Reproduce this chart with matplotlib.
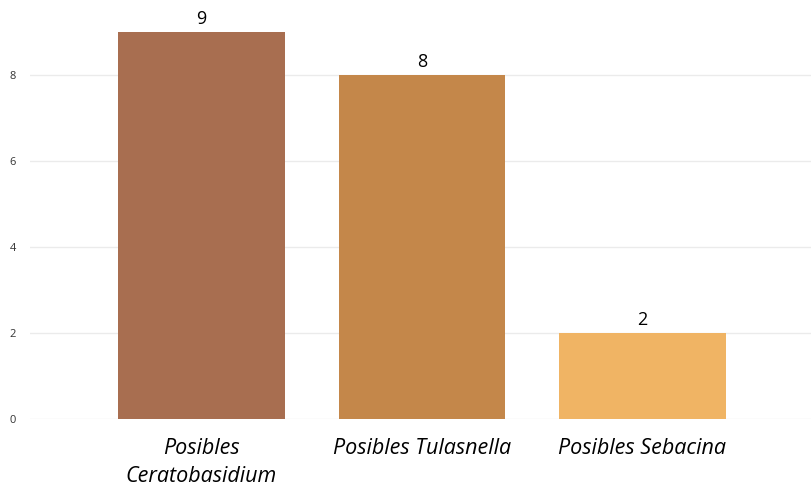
import matplotlib.pyplot as plt

categories = ["Posibles\nCeratobasidium", "Posibles Tulasnella", "Posibles Sebacina"]
counts = [9, 8, 2]
colors = ["#A86E50", "#C4874A", "#F0B464"]

plt.rcParams['font.family'] = ['Open Sans', 'DejaVu Sans']

fig = plt.figure(figsize=(8.12, 4.9), dpi=100)
ax = fig.add_axes([30 / 812, 71 / 490, 782 / 812, 419 / 490])

x = range(len(categories))
bars = ax.bar(x, counts, width=0.757, color=colors, zorder=3)

for b, v in zip(bars, counts):
    ax.annotate(str(v), (b.get_x() + b.get_width() / 2, v), xytext=(0, 3),
                textcoords="offset points", ha="center", va="bottom", fontsize=13,
                fontweight="medium")

ax.set_xlim(-0.778, 2.769)
ax.set_ylim(0, 9.74)
ax.set_yticks([0, 2, 4, 6, 8])
ax.set_xticks(list(x))
ax.set_xticklabels(categories, fontsize=15.5, style="italic", linespacing=1.4)
ax.tick_params(axis="x", length=0, pad=14)
ax.tick_params(axis="y", length=0, labelsize=8, pad=10, labelcolor="#333333")
ax.grid(axis="y", color="#EBEBEB", linewidth=1, zorder=0)
for s in ax.spines.values():
    s.set_visible(False)

fig.savefig("out.png", dpi=100)
